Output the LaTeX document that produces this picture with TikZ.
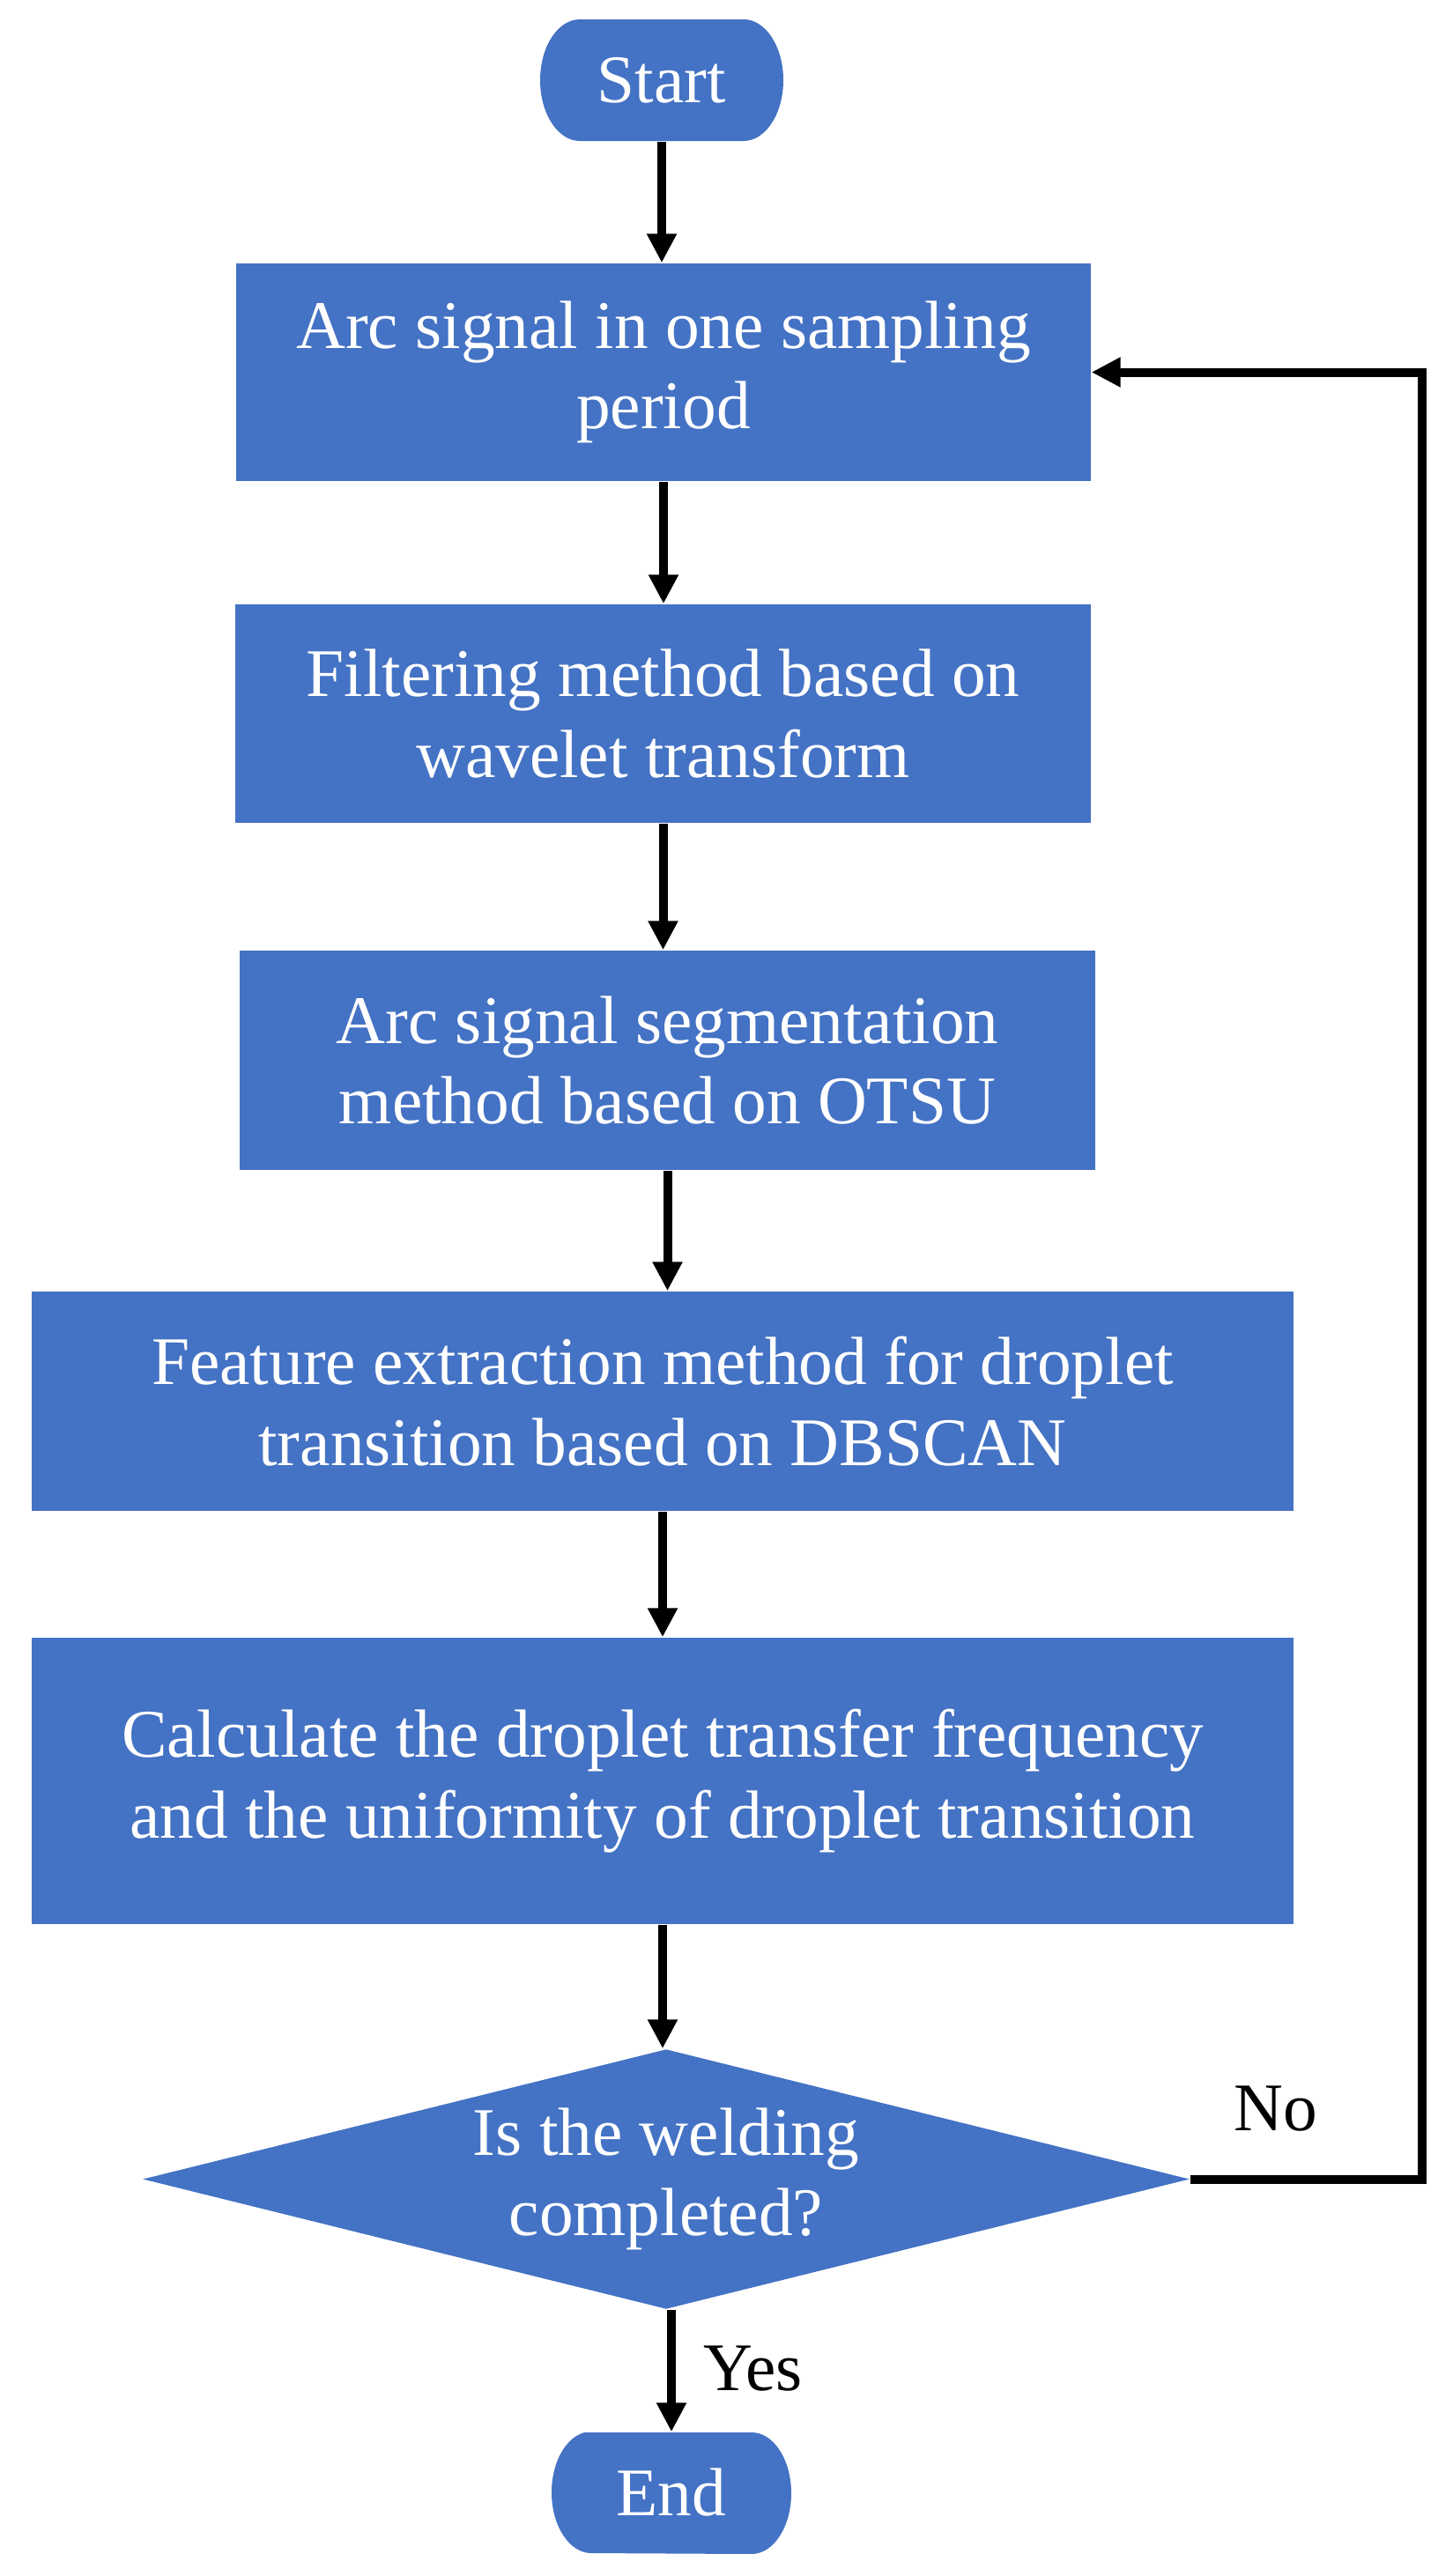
\documentclass[tikz,border=0pt]{standalone}
\usepackage{fontspec}
\setmainfont{Liberation Serif}
\usetikzlibrary{arrows.meta,shapes.geometric}
\definecolor{flowblue}{HTML}{4472C4}
\begin{document}
\begin{tikzpicture}[>={Triangle[length=0.33cm,width=0.32cm]}, font=\fontsize{22}{26}\selectfont, line join=miter,
	box/.style={fill=flowblue, text=white, align=center, inner sep=0pt},
	term/.style={text=white, inner sep=0pt, path picture={
		\fill[flowblue] ([xshift=0.45cm]path picture bounding box.north west) -- ([xshift=-0.45cm]path picture bounding box.north east)
		arc[start angle=90, end angle=-90, x radius=0.45cm, y radius=0.69cm]
		-- ([xshift=0.45cm]path picture bounding box.south west)
		arc[start angle=270, end angle=90, x radius=0.45cm, y radius=0.69cm] -- cycle;}},
	flow/.style={->, line width=0.1cm}]
	\useasboundingbox (0,0) rectangle (16.48,-29.24);
	\node[term, minimum width=2.76cm, minimum height=1.38cm] (start) at (7.51,-0.91) {Start};
	\node[box, minimum width=9.70cm, minimum height=2.47cm] (b1) at (7.53,-4.225) {Arc signal in one sampling\\period};
	\node[box, minimum width=9.71cm, minimum height=2.48cm] (b2) at (7.525,-8.10) {Filtering method based on\\wavelet transform};
	\node[box, minimum width=9.71cm, minimum height=2.49cm] (b3) at (7.575,-12.035) {Arc signal segmentation\\method based on OTSU};
	\node[box, minimum width=14.32cm, minimum height=2.49cm] (b4) at (7.52,-15.905) {Feature extraction method for droplet\\transition based on DBSCAN};
	\node[box, minimum width=14.32cm, minimum height=3.25cm] (b5) at (7.52,-20.215) {Calculate the droplet transfer frequency\\and the uniformity of droplet transition};
	\node[box, diamond, aspect=4, minimum width=11.88cm, minimum height=2.95cm] (dec) at (7.56,-24.735) {Is the welding\\completed?};
	\node[term, minimum width=2.72cm, minimum height=1.37cm] (end) at (7.62,-28.295) {End};
	\node[anchor=base west] (yes) at (7.86,-27.13) {Yes};
	\node[anchor=base west] (no) at (13.88,-24.18) {No};
	% main flow
	\draw[flow] (start.south) -- (start.south |- b1.north);
	\draw[flow] (b1.south) -- (b1.south |- b2.north);
	\draw[flow] (b2.south) -- (b2.south |- b3.north);
	\draw[flow] (b3.south) -- (b3.south |- b4.north);
	\draw[flow] (b4.south) -- (b4.south |- b5.north);
	\draw[flow] (b5.south) -- (b5.south |- dec.north);
	\draw[flow] (end.north |- dec.south) -- (end.north);
	% back to the next sampling period
	\draw[flow] (dec.east) -- ++(2.63,0) |- (b1.east);
\end{tikzpicture}
\end{document}
